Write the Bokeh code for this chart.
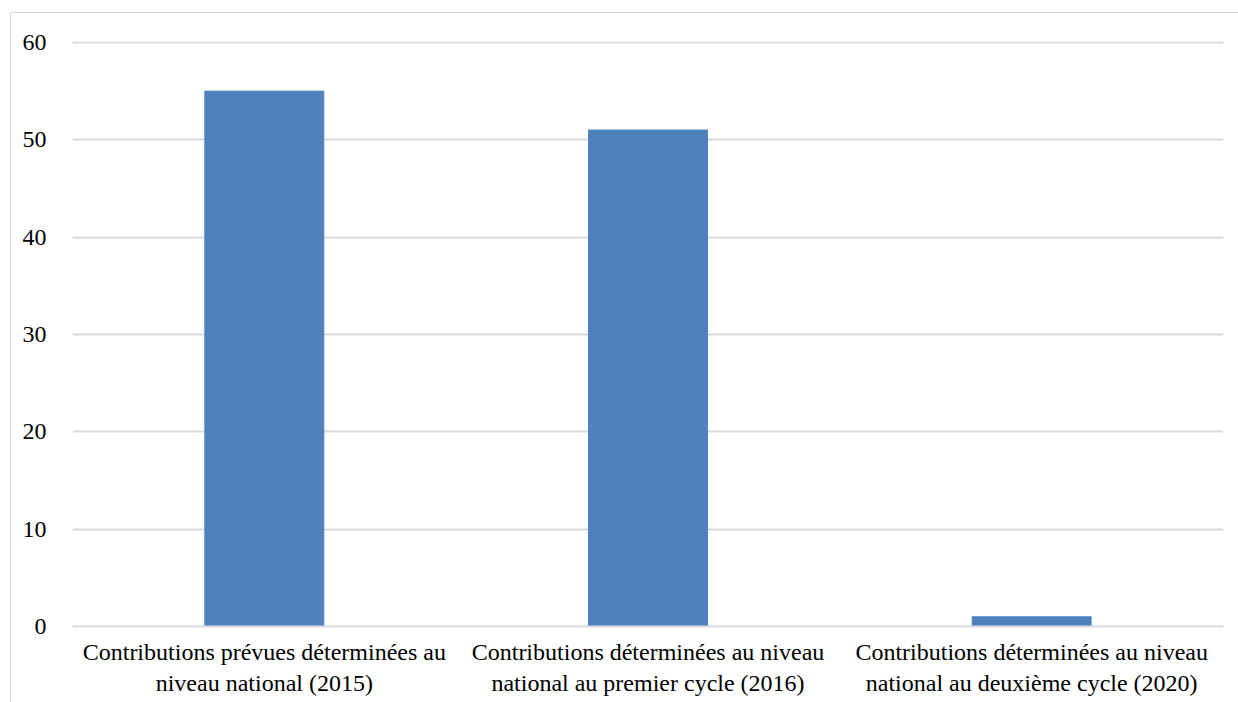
from bokeh.plotting import figure
from bokeh.models import FactorRange, Range1d, FixedTicker
from bokeh.embed import file_html
from bokeh.resources import INLINE

# Number of contributions per submission round
labels = [
    "Contributions prévues déterminées au\nniveau national (2015)",
    "Contributions déterminées au niveau\nnational au premier cycle (2016)",
    "Contributions déterminées au niveau\nnational au deuxième cycle (2020)",
]
counts = [55, 51, 1]
y_ticks = [0, 10, 20, 30, 40, 50, 60]

FONT = "Liberation Serif"
GRID = "#d9d9d9"

p = figure(
    x_range=FactorRange(*labels, range_padding=0),
    y_range=Range1d(0, 60.1),
    width=1240, height=700,
    output_backend="svg", toolbar_location=None,
    min_border_left=61, min_border_right=28,
    min_border_top=28, min_border_bottom=87,
    margin=(12, 0, 0, 10),
    styles={"border-left": f"1px solid {GRID}", "border-top": f"1px solid {GRID}",
            "box-sizing": "border-box"},
)
p.outline_line_color = None
p.background_fill_color = "white"
p.border_fill_color = "white"

p.vbar(x=labels, top=counts, width=0.31, color="#4f81bd")

p.xgrid.grid_line_color = None
p.ygrid.grid_line_color = GRID
p.ygrid.grid_line_width = 2
p.yaxis.ticker = FixedTicker(ticks=y_ticks)

for ax in (p.xaxis, p.yaxis):
    ax.axis_line_color = None
    ax.major_tick_line_color = None
    ax.minor_tick_line_color = None
    ax.major_label_text_font = FONT
    ax.major_label_text_font_size = "24px"
    ax.major_label_text_color = "#000000"

p.xaxis.axis_line_color = GRID
p.xaxis.axis_line_width = 2
p.yaxis.major_label_standoff = 20
p.xaxis.major_label_standoff = 6

open("out.html", "w").write(file_html(p, INLINE))
